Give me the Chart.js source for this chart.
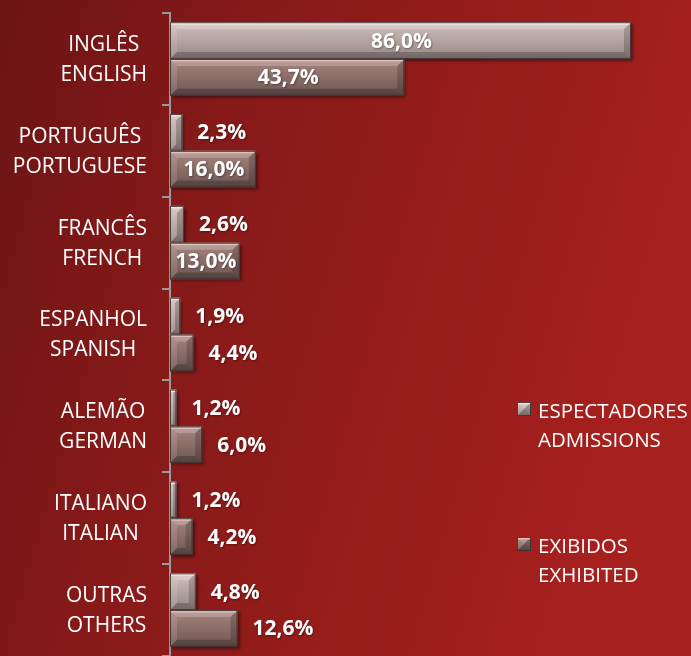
<!DOCTYPE html>
<html>
<head>
<meta charset="utf-8">
<script src="https://cdn.jsdelivr.net/npm/chart.js@4/dist/chart.umd.min.js"></script>
<style>
html,body{margin:0;padding:0;background:#8a1a1a;}
#wrap{width:691px;height:656px;position:relative;}
</style>
</head>
<body>
<div id="wrap"><canvas id="c" width="691" height="656"></canvas></div>
<script>
const categories = [
  ['INGLÊS','ENGLISH'],
  ['PORTUGUÊS','PORTUGUESE'],
  ['FRANCÊS','FRENCH'],
  ['ESPANHOL','SPANISH'],
  ['ALEMÃO','GERMAN'],
  ['ITALIANO','ITALIAN'],
  ['OUTRAS','OTHERS']
];
const admissions = [86.0, 2.3, 2.6, 1.9, 1.2, 1.2, 4.8];
const exhibited  = [43.7, 16.0, 13.0, 4.4, 6.0, 4.2, 12.6];
const seriesNames = [['ESPECTADORES','ADMISSIONS'], ['EXIBIDOS','EXHIBITED']];
const xMax = 97.2;
const insideMin = 13;

const palettes = [
  {top:'#d2c1be', mid:'#b3a3a1', bot:'#958684', hi:'rgba(255,242,240,0.6)'},
  {top:'#a6857f', mid:'#8b6d68', bot:'#6c5551', hi:'rgba(255,215,205,0.6)'}
];

function fmt(v){ return v.toFixed(1).replace('.', ',') + '%'; }

function bevelRect(ctx, left, top, right, bottom, pal, shadow){
  const w = right - left, h = bottom - top;
  if (w <= 0 || h <= 0) return;
  const b = Math.min(7, w/2, h/2);
  ctx.save();
  if (shadow){
    ctx.shadowColor = 'rgba(0,0,0,0.45)';
    ctx.shadowBlur = 3; ctx.shadowOffsetX = 2; ctx.shadowOffsetY = 2;
  }
  const g = ctx.createLinearGradient(0, top, 0, bottom);
  g.addColorStop(0, pal.top); g.addColorStop(0.5, pal.mid); g.addColorStop(1, pal.bot);
  ctx.fillStyle = g;
  ctx.fillRect(left, top, w, h);
  ctx.restore();
  ctx.save();
  ctx.beginPath(); ctx.moveTo(left, top); ctx.lineTo(right, top); ctx.lineTo(right-b, top+b); ctx.lineTo(left+b, top+b); ctx.closePath();
  ctx.fillStyle = 'rgba(255,255,255,0.22)'; ctx.fill();
  ctx.beginPath(); ctx.moveTo(left, top); ctx.lineTo(left+b, top+b); ctx.lineTo(left+b, bottom-b); ctx.lineTo(left, bottom); ctx.closePath();
  ctx.fillStyle = 'rgba(255,255,255,0.12)'; ctx.fill();
  ctx.beginPath(); ctx.moveTo(right, top); ctx.lineTo(right, bottom); ctx.lineTo(right-b, bottom-b); ctx.lineTo(right-b, top+b); ctx.closePath();
  ctx.fillStyle = 'rgba(0,0,0,0.18)'; ctx.fill();
  ctx.beginPath(); ctx.moveTo(left, bottom); ctx.lineTo(right, bottom); ctx.lineTo(right-b, bottom-b); ctx.lineTo(left+b, bottom-b); ctx.closePath();
  ctx.fillStyle = 'rgba(0,0,0,0.22)'; ctx.fill();
  ctx.fillStyle = pal.hi; ctx.fillRect(left+1, top+1, w-2, 1.5);
  ctx.strokeStyle = 'rgba(60,45,45,0.85)'; ctx.lineWidth = 1;
  ctx.strokeRect(left+0.5, top+0.5, w-1, h-1);
  ctx.restore();
}

const bgPlugin = {
  id: 'bg',
  beforeDraw(chart){
    const ctx = chart.ctx, W = chart.width, H = chart.height;
    ctx.save();
    const g = ctx.createLinearGradient(0, 0, W, H*0.3);
    g.addColorStop(0, '#6c1414');
    g.addColorStop(0.35, '#861a19');
    g.addColorStop(1, '#a6201e');
    ctx.fillStyle = g; ctx.fillRect(0, 0, W, H);
    ctx.restore();
  }
};

const barPlugin = {
  id: 'bevelBars',
  afterDatasetsDraw(chart){
    const ctx = chart.ctx;
    chart.data.datasets.forEach((ds, di) => {
      const meta = chart.getDatasetMeta(di);
      meta.data.forEach((el) => {
        const p = el.getProps(['x','y','base','height'], true);
        const left = Math.min(p.x, p.base), right = Math.max(p.x, p.base);
        bevelRect(ctx, left, p.y - p.height/2, right, p.y + p.height/2, palettes[di], true);
      });
    });
    ctx.save();
    ctx.font = 'bold 21px "Open Sans"';
    ctx.fillStyle = '#ffffff';
    ctx.textBaseline = 'middle';
    ctx.shadowColor = 'rgba(0,0,0,0.35)'; ctx.shadowBlur = 2; ctx.shadowOffsetX = 1; ctx.shadowOffsetY = 1;
    chart.data.datasets.forEach((ds, di) => {
      const meta = chart.getDatasetMeta(di);
      meta.data.forEach((el, i) => {
        const v = ds.data[i];
        const p = el.getProps(['x','y','base'], true);
        const t = fmt(v);
        if (v >= insideMin){
          ctx.textAlign = 'center';
          ctx.fillText(t, (p.x + p.base)/2 + 1, p.y + 1);
        } else {
          ctx.textAlign = 'left';
          ctx.fillText(t, p.x + 15, p.y + 1);
        }
      });
    });
    ctx.restore();
  },
  afterDraw(chart){
    const ctx = chart.ctx;
    const ys = chart.scales.y;
    ctx.save();
    ctx.font = '21px "Open Sans"';
    ctx.fillStyle = '#ffffff';
    ctx.textBaseline = 'middle';
    ctx.textAlign = 'center';
    const rightEdge = ys.right - 23;
    categories.forEach((lines, i) => {
      const yc = ys.getPixelForValue(i);
      const bw = Math.max(...lines.map(l => ctx.measureText(l).width));
      const cx = rightEdge - bw/2;
      const lh = 30;
      lines.forEach((l, k) => {
        ctx.fillText(l, cx, yc + 1 + (k - (lines.length-1)/2) * lh);
      });
    });
    ctx.font = '20.5px "Open Sans"';
    const legendX = 517, legendTops = [402, 537];
    ctx.textAlign = 'left';
    ctx.textBaseline = 'alphabetic';
    seriesNames.forEach((lines, di) => {
      const top = legendTops[di];
      bevelRect(ctx, legendX, top, legendX + 14, top + 14, palettes[di], false);
      lines.forEach((l, k) => {
        ctx.fillText(l, legendX + 21, top + 16 + k * 29);
      });
    });
    ctx.restore();
  }
};

new Chart(document.getElementById('c'), {
  type: 'bar',
  data: {
    labels: categories,
    datasets: [
      {label: seriesNames[0].join(' '), data: admissions, backgroundColor: palettes[0].mid, borderWidth: 0},
      {label: seriesNames[1].join(' '), data: exhibited, backgroundColor: palettes[1].mid, borderWidth: 0}
    ]
  },
  options: {
    indexAxis: 'y',
    responsive: false,
    animation: false,
    devicePixelRatio: 1,
    layout: {padding: {top: 13, left: 0, right: 0, bottom: 0}},
    datasets: {bar: {categoryPercentage: 0.8, barPercentage: 1.0}},
    plugins: {legend: {display: false}, tooltip: {enabled: false}},
    scales: {
      x: {display: false, min: 0, max: xMax},
      y: {
        afterFit(s){ s.width = 170; },
        ticks: {display: false},
        grid: {display: true, drawOnChartArea: false, drawTicks: true, tickLength: 8, color: '#9a9a9a', lineWidth: 2, offset: true},
        border: {display: true, color: '#9a9a9a', width: 2}
      }
    }
  },
  plugins: [bgPlugin, barPlugin]
});
</script>
</body>
</html>
